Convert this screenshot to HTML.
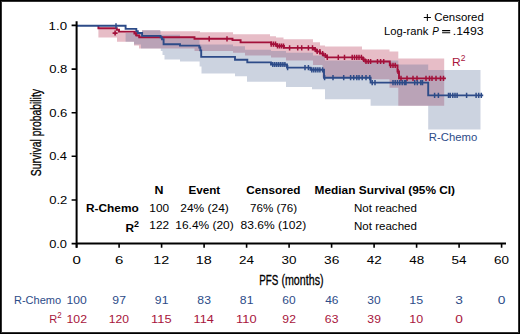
<!DOCTYPE html>
<html><head><meta charset="utf-8"><style>
html,body{margin:0;padding:0;background:#fff;}
body{width:520px;height:334px;overflow:hidden;}
svg{display:block;}
</style></head><body>
<svg width="520" height="334" viewBox="0 0 520 334">
<rect x="0" y="0" width="520" height="334" fill="#fff"/>
<path d="M98.4,28.5 L117,28.5 L117,29.7 L119,29.7 L119,31.6 L125.6,31.6 L125.6,32.6 L142,32.6 L142,30.2 L160,30.2 L160,31.3 L200,31.3 L200,32.3 L233,32.3 L233,34.2 L270,34.2 L270,36.2 L276,36.2 L276,37.6 L283.5,37.6 L283.5,39.2 L313,39.2 L313,42.2 L320,42.2 L320,45.4 L325,45.4 L325,46.5 L362,46.5 L362,49.5 L389.5,49.5 L389.5,51.5 L398.3,51.5 L398.3,58.6 L444.2,58.6 L444.2,105.8 L398.3,105.8 L398.3,87.8 L389.5,87.8 L389.5,79.2 L371,79.2 L371,77.5 L322.5,77.5 L322.5,64.9 L313,64.9 L313,60.5 L286,60.5 L286,57.5 L271,57.5 L271,55.5 L245,55.5 L245,52.7 L233,52.7 L233,50.9 L194.5,50.9 L194.5,48.4 L139,48.4 L139,45.6 L134,45.6 L134,41.7 L117,41.7 L117,37.4 L98.4,37.4 Z" fill="rgb(231,189,199)"/>
<path d="M125.6,32.6 L142,32.6 L142,30.2 L160.6,30.2 L160.6,34.7 L180,34.7 L180,38.2 L194.5,38.2 L194.5,39.6 L199.5,39.6 L199.5,44.6 L233,44.6 L233,46.3 L245,46.3 L245,49.8 L271,49.8 L271,51 L286,51 L286,52.8 L313,52.8 L313,55.5 L325,55.5 L325,60.5 L398.3,60.5 L398.3,64.6 L428.2,64.6 L428.2,70 L480.5,70 L480.5,129.6 L428.2,129.6 L428.2,105.8 L370.6,105.8 L370.6,99.3 L325,99.3 L325,89.3 L312,89.3 L312,87 L286,87 L286,81.7 L247,81.7 L247,76.2 L235,76.2 L235,73.4 L201.5,73.4 L201.5,66.5 L199.6,66.5 L199.6,61.5 L180,61.5 L180,59.6 L164.5,59.6 L164.5,55 L162.5,55 L162.5,51 L160.8,51 L160.8,48.6 L141,48.6 L141,44.6 L134,44.6 L134,41.7 L125.6,41.7 Z" fill="rgb(73,98,144)" fill-opacity="0.28"/>
<path d="M98.4,25.8 H98.4 V28.25 H116.8 V29.8 H119 V31.6 H134.4 V33.5 H136.5 V35.5 H139.2 V37.3 H194.5 V38.8 H232.5 V40.1 H240.6 V42.4 H271.2 V44.1 H277 V46 H284 V47.9 H314 V49.5 H316.5 V51.5 H320 V53.5 H323.5 V55.5 H327 V57.4 H363 V59.5 H365.2 V61.5 H389.8 V65.4 H397.5 V71.5 H399 V78.4 H445.9" fill="none" stroke="#a3103a" stroke-width="1.9"/>
<path d="M136,30.9V36.1M209.2,36.199999999999996V41.4M227,36.199999999999996V41.4M271.2,41.5V46.7M273.4,41.5V46.7M275.5,41.5V46.7M277.5,43.4V48.6M279.5,43.4V48.6M281.5,43.4V48.6M283.5,43.4V48.6M289.6,45.3V50.5M297.7,45.3V50.5M301.7,45.3V50.5M308.4,45.3V50.5M312.5,45.3V50.5M315.2,46.9V52.1M317.2,48.9V54.1M319.9,48.9V54.1M322.6,50.9V56.1M325.3,52.9V58.1M327.3,54.8V60.0M338.3,54.8V60.0M344.5,54.8V60.0M352.2,54.8V60.0M354.5,54.8V60.0M356.8,54.8V60.0M359,54.8V60.0M361.4,54.8V60.0M363.7,56.9V62.1M366,58.9V64.1M368.3,58.9V64.1M370.6,58.9V64.1M377.5,58.9V64.1M380.6,58.9V64.1M383.7,58.9V64.1M390.6,62.800000000000004V68.0M393,62.800000000000004V68.0M395.2,62.800000000000004V68.0M398,68.9V74.1M401,75.80000000000001V81.0M407,75.80000000000001V81.0M413,75.80000000000001V81.0M417,75.80000000000001V81.0M426,75.80000000000001V81.0M429.5,75.80000000000001V81.0M432,75.80000000000001V81.0M436,75.80000000000001V81.0M440.5,75.80000000000001V81.0M443.5,75.80000000000001V81.0" fill="none" stroke="#a3103a" stroke-width="1.5"/>
<path d="M112.6,33.1H117.6M115.1,30.6V35.6" fill="none" stroke="#a3103a" stroke-width="1.6"/>
<path d="M77,25.8 H125.6 V28.9 H136.3 V31.1 H137.8 V33 H142.1 V35.9 H160.6 V37.4 H162 V39.2 H163.6 V44.3 H180 V45.6 H199.3 V47.5 H200.3 V50.4 H201.2 V56.9 H235 V59.7 H247.3 V62.4 H271 V64.5 H287 V67.6 H310.5 V69.8 H324 V77.7 H370.6 V82.6 H428.2 V95.4 H483.2" fill="none" stroke="#2d4b88" stroke-width="1.9"/>
<path d="M116,23.2V28.400000000000002M272.8,61.9V67.1M274.8,61.9V67.1M276.8,61.9V67.1M278.8,61.9V67.1M280.8,61.9V67.1M282.9,61.9V67.1M284.9,61.9V67.1M287.6,65.0V70.19999999999999M305,65.0V70.19999999999999M308.4,65.0V70.19999999999999M311.8,67.2V72.39999999999999M313.8,67.2V72.39999999999999M315.8,67.2V72.39999999999999M317.9,67.2V72.39999999999999M319.9,67.2V72.39999999999999M322.6,67.2V72.39999999999999M324.6,75.10000000000001V80.3M333,75.10000000000001V80.3M343.7,75.10000000000001V80.3M350.6,75.10000000000001V80.3M353.7,75.10000000000001V80.3M356.8,75.10000000000001V80.3M359,75.10000000000001V80.3M362.2,75.10000000000001V80.3M366,75.10000000000001V80.3M369.8,75.10000000000001V80.3M372.2,80.0V85.19999999999999M375,80.0V85.19999999999999M393,80.0V85.19999999999999M395.2,80.0V85.19999999999999M397.5,80.0V85.19999999999999M399.8,80.0V85.19999999999999M402.2,80.0V85.19999999999999M404.5,80.0V85.19999999999999M406,80.0V85.19999999999999M414.7,80.0V85.19999999999999M417.3,80.0V85.19999999999999M420.8,80.0V85.19999999999999M422.5,80.0V85.19999999999999M434.6,92.80000000000001V98.0M438.4,92.80000000000001V98.0M448.5,92.80000000000001V98.0M450.2,92.80000000000001V98.0M452.8,92.80000000000001V98.0M455,92.80000000000001V98.0M457.1,92.80000000000001V98.0M466.6,92.80000000000001V98.0M476.1,92.80000000000001V98.0M478.7,92.80000000000001V98.0M481.3,92.80000000000001V98.0" fill="none" stroke="#2d4b88" stroke-width="1.5"/>
<path d="M76.6,21.3V247.7 M75.6,243.6H506" fill="none" stroke="#000" stroke-width="2"/>
<path d="M71.6,243.6H76.6M71.6,200.0H76.6M71.6,156.3H76.6M71.6,112.7H76.6M71.6,69.1H76.6M71.6,25.4H76.6M76.6,243.6V247.7M119.1,243.6V247.7M161.6,243.6V247.7M204.1,243.6V247.7M246.6,243.6V247.7M289.1,243.6V247.7M331.6,243.6V247.7M374.1,243.6V247.7M416.6,243.6V247.7M459.1,243.6V247.7M501.6,243.6V247.7" fill="none" stroke="#000" stroke-width="1.6"/>
<text x="49.15" y="247.70" font-size="11.8" font-family="Liberation Sans, sans-serif" fill="#000" textLength="17.89" lengthAdjust="spacingAndGlyphs">0.0</text>
<text x="49.15" y="204.07" font-size="11.8" font-family="Liberation Sans, sans-serif" fill="#000" textLength="18.18" lengthAdjust="spacingAndGlyphs">0.2</text>
<text x="49.15" y="160.44" font-size="11.8" font-family="Liberation Sans, sans-serif" fill="#000" textLength="17.89" lengthAdjust="spacingAndGlyphs">0.4</text>
<text x="49.15" y="116.81" font-size="11.8" font-family="Liberation Sans, sans-serif" fill="#000" textLength="18.18" lengthAdjust="spacingAndGlyphs">0.6</text>
<text x="49.15" y="73.18" font-size="11.8" font-family="Liberation Sans, sans-serif" fill="#000" textLength="18.18" lengthAdjust="spacingAndGlyphs">0.8</text>
<text x="48.57" y="29.55" font-size="11.8" font-family="Liberation Sans, sans-serif" fill="#000" textLength="18.48" lengthAdjust="spacingAndGlyphs">1.0</text>
<text x="72.46" y="264.20" font-size="11.8" font-family="Liberation Sans, sans-serif" fill="#000" textLength="8.35" lengthAdjust="spacingAndGlyphs">0</text>
<text x="114.96" y="264.20" font-size="11.8" font-family="Liberation Sans, sans-serif" fill="#000" textLength="8.35" lengthAdjust="spacingAndGlyphs">6</text>
<text x="153.38" y="264.20" font-size="11.8" font-family="Liberation Sans, sans-serif" fill="#000" textLength="15.98" lengthAdjust="spacingAndGlyphs">12</text>
<text x="195.88" y="264.20" font-size="11.8" font-family="Liberation Sans, sans-serif" fill="#000" textLength="15.98" lengthAdjust="spacingAndGlyphs">18</text>
<text x="239.03" y="264.20" font-size="11.8" font-family="Liberation Sans, sans-serif" fill="#000" textLength="15.00" lengthAdjust="spacingAndGlyphs">24</text>
<text x="281.53" y="264.20" font-size="11.8" font-family="Liberation Sans, sans-serif" fill="#000" textLength="15.00" lengthAdjust="spacingAndGlyphs">30</text>
<text x="324.02" y="264.20" font-size="11.8" font-family="Liberation Sans, sans-serif" fill="#000" textLength="15.31" lengthAdjust="spacingAndGlyphs">36</text>
<text x="366.81" y="264.20" font-size="11.8" font-family="Liberation Sans, sans-serif" fill="#000" textLength="15.00" lengthAdjust="spacingAndGlyphs">42</text>
<text x="409.31" y="264.20" font-size="11.8" font-family="Liberation Sans, sans-serif" fill="#000" textLength="15.00" lengthAdjust="spacingAndGlyphs">48</text>
<text x="451.53" y="264.20" font-size="11.8" font-family="Liberation Sans, sans-serif" fill="#000" textLength="15.00" lengthAdjust="spacingAndGlyphs">54</text>
<text x="494.03" y="264.20" font-size="11.8" font-family="Liberation Sans, sans-serif" fill="#000" textLength="15.00" lengthAdjust="spacingAndGlyphs">60</text>
<text x="259.31" y="285.00" font-size="13.8" font-family="Liberation Sans, sans-serif" fill="#000" textLength="19.11" lengthAdjust="spacingAndGlyphs" stroke="#000" stroke-width="0.3">PFS</text>
<text x="281.42" y="285.00" font-size="13.8" font-family="Liberation Sans, sans-serif" fill="#000" textLength="42.11" lengthAdjust="spacingAndGlyphs" stroke="#000" stroke-width="0.3">(months)</text>
<text x="434.29" y="21.40" font-size="11.2" font-family="Liberation Sans, sans-serif" fill="#000" textLength="49.49" lengthAdjust="spacingAndGlyphs">Censored</text>
<text x="384.10" y="34.90" font-size="11.2" font-family="Liberation Sans, sans-serif" fill="#000" textLength="44.26" lengthAdjust="spacingAndGlyphs">Log-rank</text>
<text x="432.18" y="34.90" font-size="11.2" font-family="Liberation Sans, sans-serif" font-style="italic" fill="#000" textLength="6.59" lengthAdjust="spacingAndGlyphs">P</text>
<text x="452.80" y="34.90" font-size="11.2" font-family="Liberation Sans, sans-serif" fill="#000" textLength="30.75" lengthAdjust="spacingAndGlyphs">.1493</text>
<text x="452.08" y="66.00" font-size="11.8" font-family="Liberation Sans, sans-serif" fill="#a8153c" textLength="13.48" lengthAdjust="spacingAndGlyphs">R<tspan dy="-4.6" font-size="8.4">2</tspan></text>
<text x="428.81" y="140.90" font-size="11.4" font-family="Liberation Sans, sans-serif" fill="#2d4b88" textLength="48.39" lengthAdjust="spacingAndGlyphs">R-Chemo</text>
<text x="154.57" y="193.50" font-size="11.2" font-family="Liberation Sans, sans-serif" font-weight="bold" fill="#000" textLength="8.97" lengthAdjust="spacingAndGlyphs">N</text>
<text x="188.42" y="193.50" font-size="11.2" font-family="Liberation Sans, sans-serif" font-weight="bold" fill="#000" textLength="31.81" lengthAdjust="spacingAndGlyphs">Event</text>
<text x="246.17" y="193.50" font-size="11.2" font-family="Liberation Sans, sans-serif" font-weight="bold" fill="#000" textLength="54.33" lengthAdjust="spacingAndGlyphs">Censored</text>
<text x="314.60" y="193.50" font-size="11.2" font-family="Liberation Sans, sans-serif" font-weight="bold" fill="#000" textLength="140.46" lengthAdjust="spacingAndGlyphs">Median Survival (95% CI)</text>
<text x="86.01" y="211.70" font-size="11.2" font-family="Liberation Sans, sans-serif" font-weight="bold" fill="#000" textLength="52.71" lengthAdjust="spacingAndGlyphs">R-Chemo</text>
<text x="149.32" y="211.60" font-size="11.4" font-family="Liberation Sans, sans-serif" fill="#000" textLength="19.71" lengthAdjust="spacingAndGlyphs">100</text>
<text x="180.27" y="211.70" font-size="11.4" font-family="Liberation Sans, sans-serif" fill="#000" textLength="48.60" lengthAdjust="spacingAndGlyphs">24% (24)</text>
<text x="249.99" y="211.70" font-size="11.4" font-family="Liberation Sans, sans-serif" fill="#000" textLength="47.06" lengthAdjust="spacingAndGlyphs">76% (76)</text>
<text x="353.99" y="211.50" font-size="11.4" font-family="Liberation Sans, sans-serif" fill="#000" textLength="62.94" lengthAdjust="spacingAndGlyphs">Not reached</text>
<text x="125.50" y="231.60" font-size="11.2" font-family="Liberation Sans, sans-serif" font-weight="bold" fill="#000" textLength="13.58" lengthAdjust="spacingAndGlyphs">R<tspan dy="-4.6" font-size="8.4">2</tspan></text>
<text x="149.32" y="229.30" font-size="11.4" font-family="Liberation Sans, sans-serif" fill="#000" textLength="19.71" lengthAdjust="spacingAndGlyphs">122</text>
<text x="175.31" y="229.30" font-size="11.4" font-family="Liberation Sans, sans-serif" fill="#000" textLength="58.44" lengthAdjust="spacingAndGlyphs">16.4% (20)</text>
<text x="240.57" y="229.30" font-size="11.4" font-family="Liberation Sans, sans-serif" fill="#000" textLength="65.59" lengthAdjust="spacingAndGlyphs">83.6% (102)</text>
<text x="353.99" y="229.60" font-size="11.4" font-family="Liberation Sans, sans-serif" fill="#000" textLength="62.94" lengthAdjust="spacingAndGlyphs">Not reached</text>
<text x="13.95" y="304.30" font-size="11.6" font-family="Liberation Sans, sans-serif" fill="#2d4b88" textLength="47.19" lengthAdjust="spacingAndGlyphs">R-Chemo</text>
<text x="49.35" y="322.80" font-size="11.6" font-family="Liberation Sans, sans-serif" fill="#a8153c" textLength="12.44" lengthAdjust="spacingAndGlyphs">R<tspan dy="-4.6" font-size="8.4">2</tspan></text>
<text x="66.47" y="304.30" font-size="11.8" font-family="Liberation Sans, sans-serif" fill="#2d4b88" textLength="20.28" lengthAdjust="spacingAndGlyphs">100</text>
<text x="112.38" y="304.30" font-size="11.8" font-family="Liberation Sans, sans-serif" fill="#2d4b88" textLength="13.56" lengthAdjust="spacingAndGlyphs">97</text>
<text x="154.88" y="304.30" font-size="11.8" font-family="Liberation Sans, sans-serif" fill="#2d4b88" textLength="13.56" lengthAdjust="spacingAndGlyphs">91</text>
<text x="197.38" y="304.30" font-size="11.8" font-family="Liberation Sans, sans-serif" fill="#2d4b88" textLength="13.56" lengthAdjust="spacingAndGlyphs">83</text>
<text x="239.88" y="304.30" font-size="11.8" font-family="Liberation Sans, sans-serif" fill="#2d4b88" textLength="13.56" lengthAdjust="spacingAndGlyphs">81</text>
<text x="282.39" y="304.30" font-size="11.8" font-family="Liberation Sans, sans-serif" fill="#2d4b88" textLength="13.29" lengthAdjust="spacingAndGlyphs">60</text>
<text x="325.15" y="304.30" font-size="11.8" font-family="Liberation Sans, sans-serif" fill="#2d4b88" textLength="13.29" lengthAdjust="spacingAndGlyphs">46</text>
<text x="367.39" y="304.30" font-size="11.8" font-family="Liberation Sans, sans-serif" fill="#2d4b88" textLength="13.29" lengthAdjust="spacingAndGlyphs">30</text>
<text x="409.34" y="304.30" font-size="11.8" font-family="Liberation Sans, sans-serif" fill="#2d4b88" textLength="13.85" lengthAdjust="spacingAndGlyphs">15</text>
<text x="455.32" y="304.30" font-size="11.8" font-family="Liberation Sans, sans-serif" fill="#2d4b88" textLength="7.64" lengthAdjust="spacingAndGlyphs">3</text>
<text x="497.82" y="304.30" font-size="11.8" font-family="Liberation Sans, sans-serif" fill="#2d4b88" textLength="7.64" lengthAdjust="spacingAndGlyphs">0</text>
<text x="66.46" y="322.90" font-size="11.8" font-family="Liberation Sans, sans-serif" fill="#a8153c" textLength="20.56" lengthAdjust="spacingAndGlyphs">102</text>
<text x="108.67" y="322.90" font-size="11.8" font-family="Liberation Sans, sans-serif" fill="#a8153c" textLength="20.28" lengthAdjust="spacingAndGlyphs">120</text>
<text x="151.11" y="322.90" font-size="11.8" font-family="Liberation Sans, sans-serif" fill="#a8153c" textLength="20.50" lengthAdjust="spacingAndGlyphs">115</text>
<text x="193.63" y="322.90" font-size="11.8" font-family="Liberation Sans, sans-serif" fill="#a8153c" textLength="20.21" lengthAdjust="spacingAndGlyphs">114</text>
<text x="236.11" y="322.90" font-size="11.8" font-family="Liberation Sans, sans-serif" fill="#a8153c" textLength="20.50" lengthAdjust="spacingAndGlyphs">110</text>
<text x="282.38" y="322.90" font-size="11.8" font-family="Liberation Sans, sans-serif" fill="#a8153c" textLength="13.56" lengthAdjust="spacingAndGlyphs">92</text>
<text x="324.88" y="322.90" font-size="11.8" font-family="Liberation Sans, sans-serif" fill="#a8153c" textLength="13.56" lengthAdjust="spacingAndGlyphs">63</text>
<text x="367.38" y="322.90" font-size="11.8" font-family="Liberation Sans, sans-serif" fill="#a8153c" textLength="13.56" lengthAdjust="spacingAndGlyphs">39</text>
<text x="409.34" y="322.90" font-size="11.8" font-family="Liberation Sans, sans-serif" fill="#a8153c" textLength="13.85" lengthAdjust="spacingAndGlyphs">10</text>
<text x="455.32" y="322.90" font-size="11.8" font-family="Liberation Sans, sans-serif" fill="#a8153c" textLength="7.64" lengthAdjust="spacingAndGlyphs">0</text>
<path d="M442.1,30.6H450.2M442.1,32.8H450.2M423.8,17.45H430.9M427.35,14.0V20.9" stroke="#000" stroke-width="1.05" fill="none"/>
<text transform="translate(40.9,176.2) rotate(-90)" x="0" y="0" font-size="13.8" font-family="Liberation Sans, sans-serif" textLength="87.2" lengthAdjust="spacingAndGlyphs" stroke="#000" stroke-width="0.3">Survival probability</text>
<rect x="1.5" y="1.5" width="517" height="331" fill="none" stroke="#333" stroke-width="1"/>
<rect x="0.5" y="0.5" width="519" height="333" fill="none" stroke="#000" stroke-width="1"/>
</svg>
</body></html>
